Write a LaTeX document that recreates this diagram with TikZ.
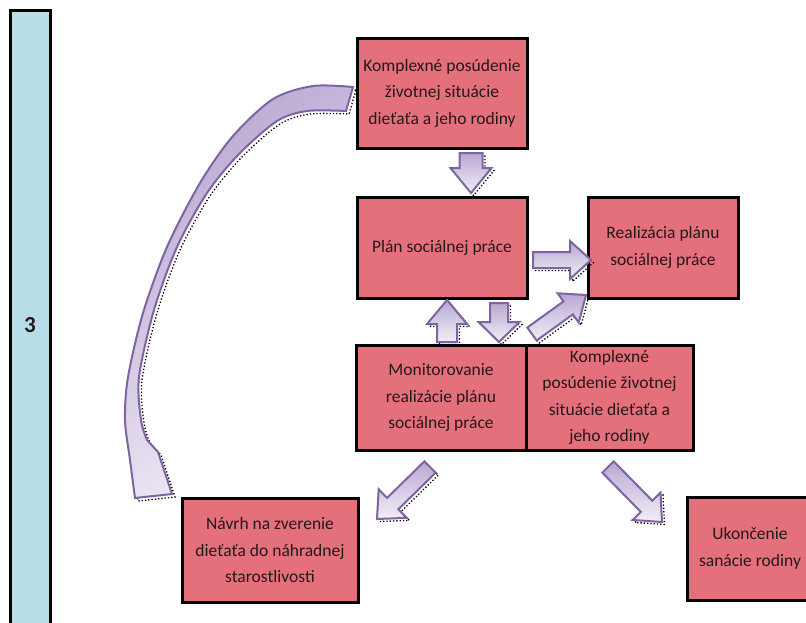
\documentclass[tikz,border=0pt]{standalone}
\usepackage{fontspec}
\setmainfont{Carlito}
\usetikzlibrary{calc}
\definecolor{boxred}{RGB}{228,112,124}
\definecolor{barblue}{RGB}{183,221,232}
\definecolor{arrline}{RGB}{128,100,162}
\definecolor{arrdark}{RGB}{184,168,210}
\definecolor{arrlight}{RGB}{242,238,247}
\definecolor{txt}{RGB}{38,24,24}
\newcommand{\blockarr}[5]{%
  \coordinate (#1-h) at ($(#2)!#5!(#1)$);
  \path[arrshadow] ($(#1)!#3!90:(#2)$) -- ($(#1-h)!#3!90:(#2)$) -- ($(#1-h)!#4!90:(#2)$) -- (#2)
     -- ($(#1-h)!#4!-90:(#2)$) -- ($(#1-h)!#3!-90:(#2)$) -- ($(#1)!#3!-90:(#2)$) -- cycle;
  \path[arrbody] ($(#1)!#3!90:(#2)$) -- ($(#1-h)!#3!90:(#2)$) -- ($(#1-h)!#4!90:(#2)$) -- (#2)
     -- ($(#1-h)!#4!-90:(#2)$) -- ($(#1-h)!#3!-90:(#2)$) -- ($(#1)!#3!-90:(#2)$) -- cycle;
}
\begin{document}
\begin{tikzpicture}[x=1pt,y=-1pt,
  box/.style={draw=black, line width=3pt, fill=boxred, align=center, text=txt,
    font=\fontsize{17.5}{26.5}\selectfont, inner sep=0pt},
  arrbody/.style={draw=arrline, line width=2pt, line join=miter, top color=arrdark, bottom color=arrlight},
  arrshadow/.style={draw=black, dotted, line width=1.3pt, transform canvas={xshift=2.5pt,yshift=-2.5pt}},
]
\useasboundingbox (0,0) rectangle (806,622);
\clip (0,0) rectangle (806,622);

% left bar
\draw[line width=3pt, fill=barblue] (10,10) rectangle (50,640);
\node[font=\fontsize{23}{26}\selectfont\bfseries, text=txt] (num) at (30,325) {3};

% boxes
\node[box, minimum width=170, minimum height=110] (kp1) at (442,93)
  {Komplexné posúdenie\\životnej situácie\\dieťaťa a jeho rodiny};
\node[box, minimum width=170, minimum height=101] (plan) at (442,247.5)
  {Plán sociálnej práce};
\node[box, minimum width=150, minimum height=101] (real) at (663,247.5)
  {Realizácia plánu\\sociálnej práce};
\node[box, minimum width=170, minimum height=105] (mon) at (441,397.5)
  {Monitorovanie\\realizácie plánu\\sociálnej práce};
\node[box, minimum width=167, minimum height=105] (kp2) at (609.5,397.5)
  {Komplexné\\posúdenie životnej\\situácie dieťaťa a\\jeho rodiny};
\node[box, minimum width=176, minimum height=104] (navrh) at (270,550)
  {Návrh na zverenie\\dieťaťa do náhradnej\\starostlivosti};
\node[box, minimum width=126, minimum height=103] (ukon) at (750,548.5)
  {Ukončenie\\sanácie rodiny};

% curved arrow
\def\outeredge{(353,87) (313,86) (273,99) (233,136) (200,183) (167,247) (143,313) (128,377) (125,420) (130,460) (135,498)}
\def\inneredge{(147,440) (141,420) (139,377) (154,310) (177,247) (207,193) (239,154) (277,121) (307,111) (346,111)}
\draw[draw=black, dotted, line width=1.3pt, transform canvas={xshift=3pt,yshift=-3pt}]
  plot[smooth] coordinates {\outeredge} -- (172,494) -- (158,452)
  -- plot[smooth] coordinates {\inneredge} -- cycle;
\draw[draw=arrline, line width=2pt, line join=miter, top color=arrdark, bottom color=arrlight, shading angle=35]
  plot[smooth] coordinates {\outeredge} -- (172,494) -- (158,452)
  -- plot[smooth] coordinates {\inneredge} -- cycle;

% block arrows
\coordinate (a1s) at (471,153); \coordinate (a1e) at (471,193);
\blockarr{a1s}{a1e}{11.5pt}{20.5pt}{25pt}
\coordinate (a2s) at (533,260); \coordinate (a2e) at (591,260);
\blockarr{a2s}{a2e}{8pt}{19pt}{21pt}
\coordinate (a3s) at (447,342); \coordinate (a3e) at (447,300);
\blockarr{a3s}{a3e}{10pt}{20pt}{24pt}
\coordinate (a4s) at (499,303); \coordinate (a4e) at (499,342);
\blockarr{a4s}{a4e}{9pt}{20.5pt}{20pt}
\coordinate (a5s) at (532,334); \coordinate (a5e) at (586,295);
\blockarr{a5s}{a5e}{8pt}{18pt}{22pt}
\coordinate (a6s) at (430,467); \coordinate (a6e) at (377,519);
\blockarr{a6s}{a6e}{8pt}{20pt}{22pt}
\coordinate (a7s) at (608,467); \coordinate (a7e) at (662,522);
\blockarr{a7s}{a7e}{8pt}{19.5pt}{22pt}
\end{tikzpicture}
\end{document}
